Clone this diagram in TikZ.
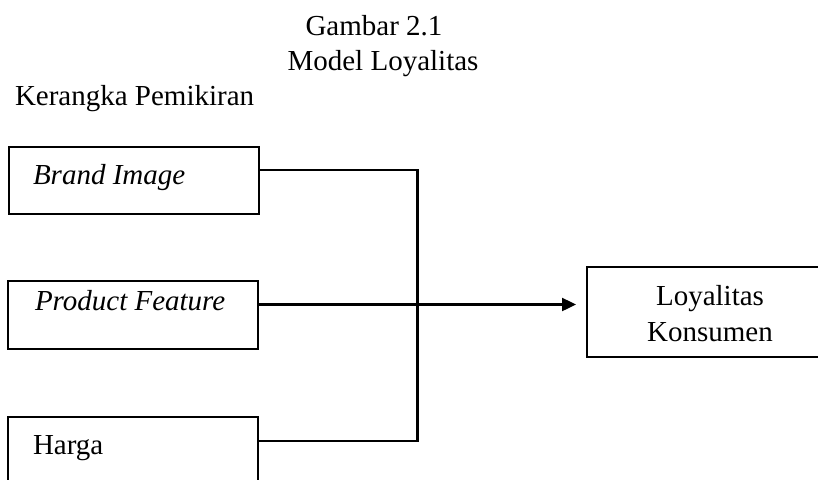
\documentclass[tikz,border=0pt]{standalone}
\usepackage{fontspec}
\setmainfont{Liberation Serif}
\usetikzlibrary{arrows.meta}
\begin{document}
\begin{tikzpicture}[x=1pt,y=-1pt,
  every node/.style={inner sep=0pt, outer sep=0pt},
  txt/.style={font=\fontsize{29}{36}\selectfont},
  inbox/.style={draw, line width=2.4pt, minimum width=250pt, minimum height=67pt},
  outbox/.style={draw, line width=2.4pt, minimum width=246pt, minimum height=90pt},
  conn/.style={line width=2.4pt},
  arr/.style={line width=2.4pt, -{Triangle[length=14pt,width=13pt]}}]
\useasboundingbox (0,0) rectangle (818,479);
\fill[white] (0,0) rectangle (818,479);
% titles
\node[txt, anchor=base] (t1) at (374,35) {Gambar 2.1};
\node[txt, anchor=base] (t2) at (383,70) {Model Loyalitas};
\node[txt, anchor=base west] (t3) at (15,105) {Kerangka Pemikiran};
% boxes
\node[inbox] (bi) at (134,180.5) {};
\node[inbox, minimum height=68pt] (pf) at (133,315) {};
\node[inbox, minimum height=68pt] (hg) at (133,451) {};
\node[outbox] (lk) at (710,312) {};
% box texts
\node[txt, anchor=base west] (bit) at (33,184) {\itshape Brand Image};
\node[txt, anchor=base west] (pft) at (35,310.5) {\itshape Product Feature};
\node[txt, anchor=base west] (hgt) at (33,454) {Harga};
\node[txt, anchor=base] (lk1) at (710,305) {Loyalitas};
\node[txt, anchor=base] (lk2) at (710,341) {Konsumen};
% connectors
\coordinate (junc) at (417.5,300);
\coordinate (tip) at (576,300);
\draw[conn] ([yshift=10.5pt]bi.east) -| (junc) |- ([yshift=10pt]hg.east);
\draw[arr] ([yshift=10.5pt]pf.east) -- ([yshift=10.5pt]pf.east -| tip);
\end{tikzpicture}
\end{document}
